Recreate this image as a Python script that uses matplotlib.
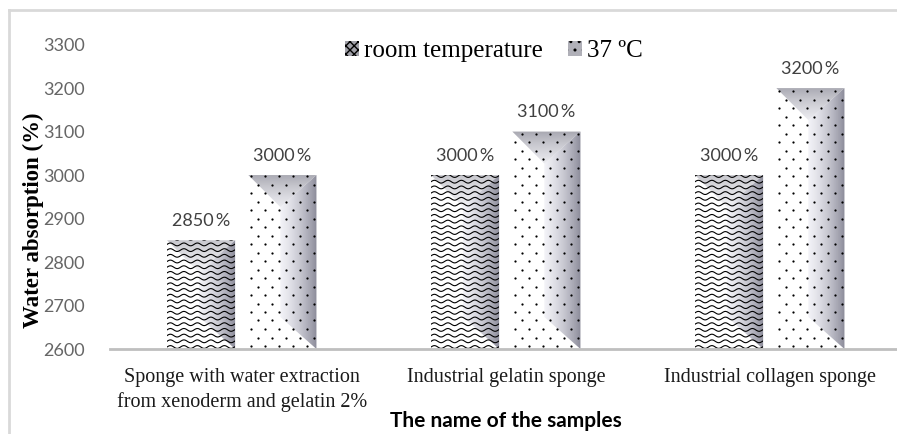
import numpy as np
import matplotlib.pyplot as plt
from matplotlib.patches import Polygon, Patch

samples = ['Sponge with water extraction\nfrom xenoderm and gelatin 2%',
           'Industrial gelatin sponge',
           'Industrial collagen sponge']
room_temp = [2850, 3000, 3000]
body_temp = [3000, 3100, 3200]
series_names = ['room temperature', '37 \u00baC']
yticks = [2600, 2700, 2800, 2900, 3000, 3100, 3200, 3300]

W, H = 897, 434
fig = plt.figure(figsize=(W / 100, H / 100), dpi=100)
ax = fig.add_axes([110 / W, (H - 349) / H, 792 / W, (349 - 44.6) / H])
ax.set_xlim(-0.5, 2.5)
ax.set_ylim(2600, 3300)
ax.autoscale(False)

x = np.arange(len(samples))
bw = 0.258
off_room = -0.155
off_body = 0.153

bars_room = ax.bar(x + off_room, [v - 2600 for v in room_temp], bw, bottom=2600,
                   color='white', zorder=2)
bars_body = ax.bar(x + off_body, [v - 2600 for v in body_temp], bw, bottom=2600,
                   color='white', zorder=2)


def to_data(pts):
    return ax.transData.inverted().transform(np.array(pts))


def shade(rect, top_alpha):
    # fake excel bevel: dark top triangle and a gradient on the right side
    (X0, Y0) = ax.transData.transform((rect.get_x(), rect.get_y()))
    (X1, Y1) = ax.transData.transform((rect.get_x() + rect.get_width(),
                                       rect.get_y() + rect.get_height()))
    w = X1 - X0
    xm = X0 + 0.47 * w
    d = xm - X0
    strip = Polygon(to_data([(xm, Y1 - d), (X1, Y1), (X1, Y0), (xm, Y0 + d)]),
                    closed=True, transform=ax.transData, facecolor='none', edgecolor='none')
    ax.add_patch(strip)
    g = np.zeros((1, 128, 4))
    t = np.linspace(0, 1, 128)
    g[0, :, 0] = 0.90 - 0.38 * t
    g[0, :, 1] = 0.90 - 0.38 * t
    g[0, :, 2] = 0.94 - 0.36 * t
    g[0, :, 3] = 0.45 + 0.5 * t
    (dx0, dy0), (dx1, dy1) = to_data([(xm, Y0), (X1, Y1)])
    im = ax.imshow(g, extent=(dx0, dx1, dy0, dy1), aspect='auto', zorder=2.5,
                   interpolation='bilinear')
    im.set_clip_path(strip)

    tri = Polygon(to_data([(X0, Y1), (X1, Y1), (xm, Y1 - d)]), closed=True,
                  transform=ax.transData, facecolor='none', edgecolor='none')
    ax.add_patch(tri)
    gv = np.zeros((64, 1, 4))
    s = np.linspace(0, 1, 64)[:, None]
    gv[:, :, 0] = 0.62 + 0.25 * s
    gv[:, :, 1] = 0.62 + 0.25 * s
    gv[:, :, 2] = 0.66 + 0.24 * s
    gv[:, :, 3] = top_alpha * (1 - 0.35 * s)
    (tx0, ty0), (tx1, ty1) = to_data([(X0, Y1 - d), (X1, Y1)])
    im2 = ax.imshow(gv, extent=(tx0, tx1, ty0, ty1), aspect='auto', zorder=2.6,
                    interpolation='bilinear')
    im2.set_clip_path(tri)
    return X0, Y0, X1, Y1


for rect in bars_room:
    X0, Y0, X1, Y1 = shade(rect, 0.6)
    for yy in np.arange(Y0 + 2, Y1 + 3, 5.7):
        xs = np.linspace(X0 - 2, X1 + 2, 80)
        ys = yy + 1.4 * np.sin(2 * np.pi * (xs - X0) / 13.5)
        pts = to_data(np.column_stack([xs, ys]))
        ln, = ax.plot(pts[:, 0], pts[:, 1], color='black', lw=0.8, zorder=3)
        ln.set_clip_path(rect)

for rect in bars_body:
    X0, Y0, X1, Y1 = shade(rect, 0.9)
    pts = []
    for i, yy in enumerate(np.arange(Y0 + 3, Y1, 8.5)):
        for xx in np.arange(X0 + 3 + (i % 2) * 7, X1, 14):
            pts.append((xx, yy))
    pts = to_data(pts)
    sc = ax.scatter(pts[:, 0], pts[:, 1], s=2.6, color='black', lw=0, zorder=3)
    sc.set_clip_path(rect)

ax.set_xlim(-0.5, 2.5)
ax.set_ylim(2600, 3300)

for xi, v in zip(x + off_room, room_temp):
    ax.annotate(f'{v}\u2009%', (xi, v), xytext=(0, 8), textcoords='offset points',
                ha='center', va='bottom', fontsize=13, family='Lato', color='#404040')
for xi, v in zip(x + off_body, body_temp):
    ax.annotate(f'{v}\u2009%', (xi, v), xytext=(0, 8), textcoords='offset points',
                ha='center', va='bottom', fontsize=13, family='Lato', color='#404040')

for sp in ['top', 'right', 'left']:
    ax.spines[sp].set_visible(False)
ax.spines['bottom'].set_color('#bfbfbf')
ax.spines['bottom'].set_linewidth(2)
ax.spines['bottom'].set_zorder(4)

ax.set_yticks(yticks)
ax.set_yticklabels([str(v) for v in yticks], family='Lato', fontsize=13, color='#666666')
ax.set_xticks(x)
ax.set_xticklabels(samples, family='Liberation Serif', fontsize=14.5, color='#1a1a1a',
                   linespacing=1.3)
ax.tick_params(axis='both', length=0)
ax.tick_params(axis='y', pad=18)
ax.tick_params(axis='x', pad=14)

fig.text(33 / W, 1 - 220 / H, 'Water absorption (%)', rotation=90, ha='center', va='center',
         family='Liberation Serif', fontweight='bold', fontsize=16.5)
fig.text(506 / W, 1 - 421 / H, 'The name of the samples', ha='center', va='center',
         family='Lato', fontweight='bold', fontsize=15)

handles = [Patch(facecolor='#a0a0a8', edgecolor='black', hatch='xxxx', lw=0),
           Patch(facecolor='#b0b0b8', edgecolor='black', hatch='..', lw=0)]
leg = fig.legend(handles, series_names, loc='center', bbox_to_anchor=(494 / W, 1 - 51 / H),
                 ncol=2, frameon=False, handlelength=0.55, handleheight=0.55,
                 handletextpad=0.2, columnspacing=1.0,
                 prop={'family': 'Liberation Serif', 'size': 18})

# light outer frame of the chart area
fig.add_artist(plt.Line2D([9 / W, 9 / W], [0, 1 - 10 / H], color='#d9d9d9', lw=2,
                          transform=fig.transFigure))
fig.add_artist(plt.Line2D([9 / W, 1], [1 - 10 / H, 1 - 10 / H], color='#d9d9d9', lw=2,
                          transform=fig.transFigure))

fig.savefig('out.png', dpi=100)
